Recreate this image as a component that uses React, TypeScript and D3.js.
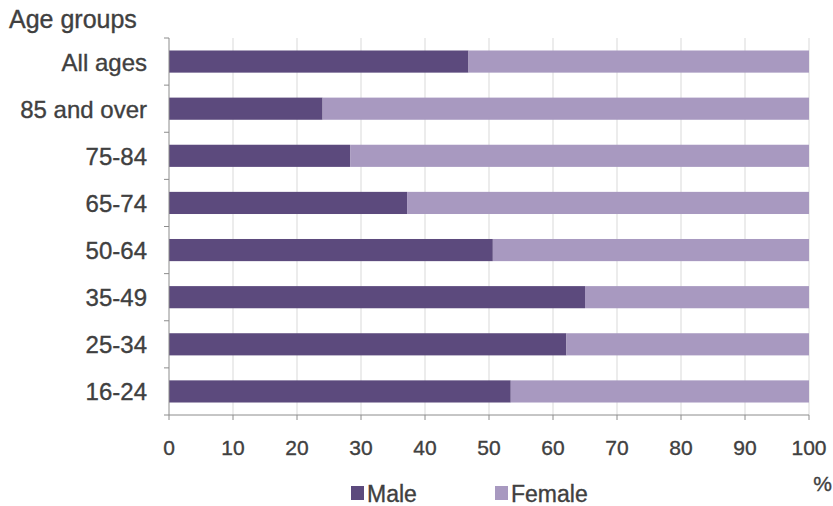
import React, { useEffect, useRef } from "react";
import * as d3 from "d3";

const categories = ["All ages", "85 and over", "75-84", "65-74", "50-64", "35-49", "25-34", "16-24"];
const maleValues = [46.8, 24.0, 28.3, 37.2, 50.6, 65.0, 62.1, 53.4];
const femaleValues = maleValues.map((m) => 100 - m);
const xTicks = [0, 10, 20, 30, 40, 50, 60, 70, 80, 90, 100];
const seriesNames = ["Male", "Female"];
const seriesColors = ["#5c4a7d", "#a899c0"];

const W = 833;
const H = 506;
const FONT = "'Liberation Sans', Arial, sans-serif";
const TEXT = "#404040";

export default function App() {
  const ref = useRef<SVGSVGElement | null>(null);

  useEffect(() => {
    const svg = d3.select(ref.current);
    svg.selectAll("*").remove();

    const left = 169, right = 809, top = 38, bottom = 415;
    const x = d3.scaleLinear().domain([0, 100]).range([left, right]);
    const y = d3.scaleBand<string>().domain(categories).range([top, bottom]).paddingInner(0.53).paddingOuter(0.265);
    const yb = d3.scaleBand<string>().domain(categories).range([top, bottom]).padding(0);

    const txt = (sel: any, size: number) =>
      sel.attr("font-family", FONT).attr("font-size", size).attr("fill", TEXT)
        .attr("stroke", TEXT).attr("stroke-width", 0.35);

    // gridlines
    svg.append("g")
      .selectAll("line")
      .data(xTicks.filter((t) => t > 0))
      .join("line")
      .attr("x1", (d) => x(d)).attr("x2", (d) => x(d))
      .attr("y1", top).attr("y2", bottom)
      .attr("stroke", "#d9d9d9").attr("stroke-width", 1);

    // stacked bars
    const rows = categories.map((c, i) => ({ c, m: maleValues[i], f: femaleValues[i] }));
    const stack = d3.stack<any>().keys(["m", "f"])(rows);
    stack.forEach((layer, li) => {
      svg.append("g")
        .selectAll("rect")
        .data(layer)
        .join("rect")
        .attr("x", (d) => x(d[0]))
        .attr("width", (d) => x(d[1]) - x(d[0]))
        .attr("y", (d) => y(d.data.c)!)
        .attr("height", y.bandwidth())
        .attr("fill", seriesColors[li]);
    });

    // axes lines
    svg.append("line").attr("x1", left).attr("x2", left).attr("y1", top).attr("y2", bottom)
      .attr("stroke", "#8c8c8c").attr("stroke-width", 1);
    svg.append("line").attr("x1", left).attr("x2", right).attr("y1", bottom).attr("y2", bottom)
      .attr("stroke", "#8c8c8c").attr("stroke-width", 1);

    // y ticks at band boundaries
    const bounds = categories.map((c) => yb(c)!).concat([bottom]);
    svg.append("g").selectAll("line").data(bounds).join("line")
      .attr("x1", left - 5).attr("x2", left).attr("y1", (d) => d).attr("y2", (d) => d)
      .attr("stroke", "#8c8c8c");

    // x ticks
    svg.append("g").selectAll("line").data(xTicks).join("line")
      .attr("x1", (d) => x(d)).attr("x2", (d) => x(d)).attr("y1", bottom).attr("y2", bottom + 5)
      .attr("stroke", "#8c8c8c");

    // x tick labels
    txt(svg.append("g").selectAll("text").data(xTicks).join("text")
      .attr("x", (d) => x(d)).attr("y", 455)
      .attr("text-anchor", "middle"), 21)
      .text((d: number) => String(d));

    // category labels
    txt(svg.append("g").selectAll("text").data(categories).join("text")
      .attr("x", 147).attr("y", (d) => yb(d)! + yb.bandwidth() / 2 + 9)
      .attr("text-anchor", "end"), 24)
      .text((d: string) => d);

    // title
    txt(svg.append("text").attr("x", 9).attr("y", 28), 25).text("Age groups");

    // percent
    txt(svg.append("text").attr("x", 832).attr("y", 491).attr("text-anchor", "end"), 21).text("%");

    // legend
    const legendX = [351, 495];
    seriesNames.forEach((name, i) => {
      svg.append("rect").attr("x", legendX[i]).attr("y", 486).attr("width", 13).attr("height", 14)
        .attr("fill", seriesColors[i]);
      txt(svg.append("text").attr("x", legendX[i] + 16).attr("y", 502), 23).text(name);
    });
  }, []);

  return (
    <svg
      ref={ref}
      width={W}
      height={H}
      style={{ position: "absolute", left: 0, top: 0, background: "#fff" }}
    />
  );
}
